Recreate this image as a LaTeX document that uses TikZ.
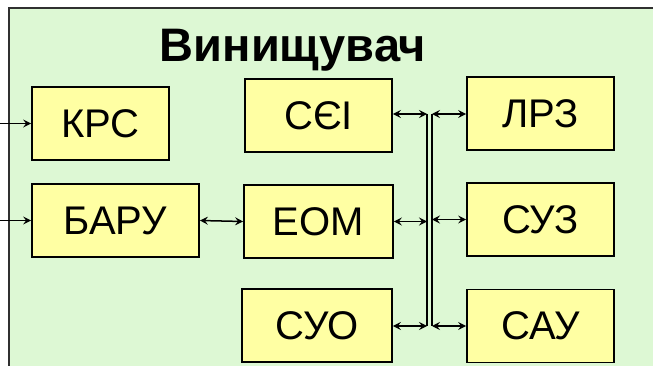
\documentclass[tikz,border=0pt]{standalone}
\usepackage{fontspec}
\setmainfont{Liberation Sans}
\usetikzlibrary{arrows.meta}
\definecolor{panelgreen}{HTML}{DDF8D4}
\definecolor{boxyellow}{HTML}{FFFFA3}
\definecolor{framegray}{HTML}{303030}
\begin{document}
\begin{tikzpicture}[x=1pt,y=-1pt,
  unit/.style={draw=black,line width=1.8pt,fill=boxyellow,inner sep=0pt,
    minimum height=73pt,font=\fontsize{40}{42}\selectfont},
  tip/.tip={Stealth[length=8pt,width=8pt,inset=3pt]},
  link/.style={line width=1.5pt,tip-tip},
  feed/.style={line width=1.5pt,-tip},
  bus/.style={line width=1.8pt}]
  \useasboundingbox (0,0) rectangle (653,366);
  % panel: its right and bottom edges lie beyond the page
  \fill[panelgreen] (9,8) rectangle (653,366);
  \fill[framegray] (8.25,7.25) rectangle (9.75,366);
  \fill[framegray] (8.25,7.25) rectangle (653,8.75);
  \node[font=\bfseries\fontsize{47}{50}\selectfont,anchor=base] (title) at (293,62) {Винищувач};
  % units
  \node[unit,minimum width=137pt] (krs)  at (100.5,123.5) {КРС};
  \node[unit,minimum width=167pt] (baru) at (115.5,220.5) {БАРУ};
  \node[unit,minimum width=147pt] (sei)  at (318.5,115.5) {СЄІ};
  \node[unit,minimum width=149pt] (eom)  at (318.5,221.5) {ЕОМ};
  \node[unit,minimum width=150pt] (suo)  at (317,325.5) {СУО};
  \node[unit,minimum width=147pt] (lrz)  at (540.5,113.5) {ЛРЗ};
  \node[unit,minimum width=147pt] (suz)  at (540.5,219.5) {СУЗ};
  \node[unit,minimum width=147pt] (sau)  at (540.5,326) {САУ};
  % double bus
  \coordinate (busLtop) at (427,114);
  \coordinate (busLbot) at (427,326);
  \coordinate (busRtop) at (432,114);
  \coordinate (busRbot) at (432,326);
  \draw[bus] (busLtop) -- (busLbot);
  \draw[bus] (busRtop) -- (busRbot);
  % external inputs
  \coordinate (inK) at (0,123.5);
  \coordinate (inB) at (0,220.5);
  \draw[feed] (inK) -- (krs.west);
  \draw[feed] (inB) -- (baru.west);
  % links
  \draw[link] (baru.east) -- (eom.west);
  \draw[link] (sei.east |- busLtop) -- (busLtop);
  \draw[link] (eom.east) -- (eom.east -| busLtop);
  \draw[link] (suo.east |- busLbot) -- (busLbot);
  \draw[link] (busRtop) -- (lrz.west |- busRtop);
  \draw[link] (suz.west -| busRtop) -- (suz.west);
  \draw[link] (busRbot) -- (sau.west |- busRbot);
\end{tikzpicture}
\end{document}
